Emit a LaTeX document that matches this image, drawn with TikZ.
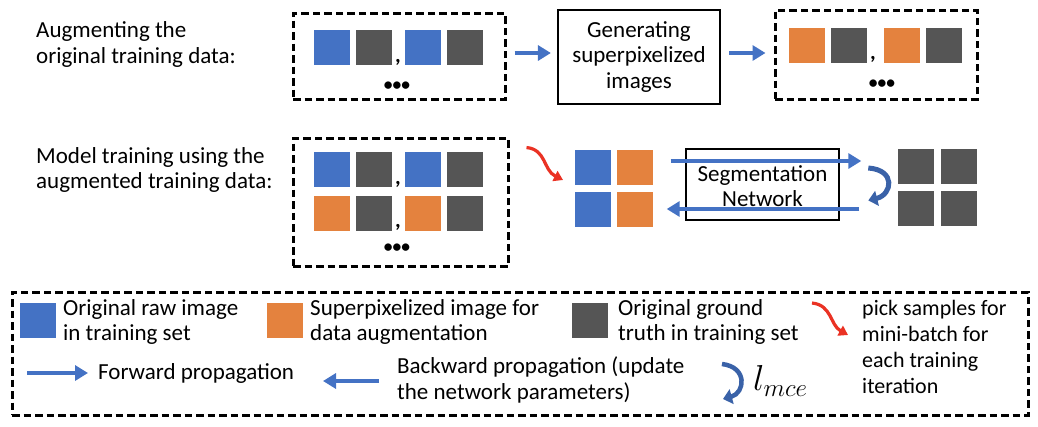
\documentclass[tikz,border=0pt]{standalone}
\usepackage{fontspec}
\setmainfont{Carlito}
\usepackage{graphicx}
\usetikzlibrary{arrows.meta,calc}
\definecolor{cblue}{RGB}{68,114,196}
\definecolor{corange}{RGB}{228,130,62}
\definecolor{cgray}{RGB}{85,85,85}
\definecolor{cred}{RGB}{234,50,36}
\definecolor{ccurl}{RGB}{58,98,168}
\begin{document}
\begin{tikzpicture}[x=1pt,y=-1pt,
  font=\fontsize{23}{25.5}\selectfont,
  sq/.style={minimum width=36pt,minimum height=35pt,inner sep=0pt,outer sep=0pt},
  bsq/.style={sq,fill=cblue},
  osq/.style={sq,fill=corange},
  gsq/.style={sq,fill=cgray},
  dbox/.style={draw=black,line width=3pt,dash pattern=on 7.5pt off 4pt,inner sep=0pt},
  sbox/.style={draw=black,line width=2.2pt,inner sep=0pt,align=center},
  txt/.style={anchor=west,align=left,inner sep=0pt},
  comma/.style={inner sep=0pt,font=\fontsize{22}{22}\selectfont\bfseries},
  dots/.style={inner sep=0pt,font=\fontsize{17.5}{18}\selectfont\bfseries},
  barrow/.style={draw=cblue,line width=4.5pt,-{Triangle[length=13pt,width=15pt]}},
  redarr/.style={draw=cred,line width=3.2pt,-{Triangle[length=9pt,width=11pt]}},
  curl/.style={draw=ccurl,line width=5pt,-{Triangle[length=9pt,width=15pt]}},
]
\useasboundingbox (0,0) rectangle (1038,426);

% ---------- top row ----------
\node[txt] (lab1) at (36,44.5) {Augmenting the\\original training data:};
\node[dbox,minimum width=212pt,minimum height=86pt] (d1) at (399,56) {};
\node[bsq] (t1) at (332,47.5) {};
\node[gsq] (t2) at (374,47.5) {};
\node[comma] (tc1) at (398,62) {,};
\node[bsq] (t3) at (423,47.5) {};
\node[gsq] (t4) at (465,47.5) {};
\node[dots] (tdots1) at (397,86) {•••};

\node[sbox,minimum width=162pt,minimum height=94pt] (gen) at (639,57)
  {Generating\\superpixelized\\images};

\node[dbox,minimum width=202pt,minimum height=89pt] (d3) at (876,54.5) {};
\node[osq] (r1) at (807,45) {};
\node[gsq] (r2) at (849,45) {};
\node[comma] (rc1) at (873,59) {,};
\node[osq] (r3) at (902,45) {};
\node[gsq] (r4) at (944,45) {};
\node[dots] (rdots) at (882,84) {•••};

\draw[barrow] ($(d1.east)+(8,-3)$) -- ($(gen.west |- d1.east)+(-6,-3)$);
\draw[barrow] ($(gen.east)+(8,-4)$) -- ($(d3.west |- gen.east)+(-8,-4)$);

% ---------- middle row ----------
\node[txt] (lab2) at (36,170) {Model training using the\\augmented training data:};
\node[dbox,minimum width=215pt,minimum height=128pt] (d2) at (400.5,202) {};
\node[bsq] (m1) at (332,169.5) {};
\node[gsq] (m2) at (374,169.5) {};
\node[comma] (mc1) at (398,184) {,};
\node[bsq] (m3) at (423,169.5) {};
\node[gsq] (m4) at (465,169.5) {};
\node[osq] (n1) at (332,213) {};
\node[gsq] (n2) at (374,213) {};
\node[comma] (mc2) at (398,227) {,};
\node[osq] (n3) at (423,213) {};
\node[gsq] (n4) at (465,213) {};
\node[dots] (mdots) at (397,248) {•••};

\node[bsq] (g1) at (593,167) {};
\node[osq] (g2) at (635,167) {};
\node[bsq] (g3) at (593,209) {};
\node[osq] (g4) at (635,209) {};

\node[sbox,minimum width=153pt,minimum height=71pt,line width=2.6pt] (seg) at (762.5,184.5) {};
\node[align=center,inner sep=0pt] (segtxt) at (762.5,186) {Segmentation\\Network};

\node[gsq] (k1) at (915.5,166) {};
\node[gsq] (k2) at (959,166) {};
\node[gsq] (k3) at (915.5,208.5) {};
\node[gsq] (k4) at (959,208.5) {};

\draw[barrow,line width=4pt] ($(seg.west)+(-14,-23.5)$) -- ($(seg.east)+(21,-23.5)$);
\draw[barrow,line width=4pt] ($(seg.east)+(19,24.5)$) -- ($(seg.west)+(-18,24.5)$);

\coordinate (cs) at ($(seg.east)+(28,-16.5)$);
\coordinate (ce) at ($(seg.east)+(28,16)$);
\draw[curl] (cs) .. controls +(28,2) and +(24,-6) .. (ce);

\coordinate (rs) at ($(d2.north east)+(17,11)$);
\draw[redarr] (rs) .. controls +(20,2) and +(-20,-10) .. ($(g1.west)+(-12,13)$);

% ---------- legend ----------
\node[dbox,minimum width=1016pt,minimum height=123pt] (leg) at (520,353.5) {};
\node[bsq] (lb) at (38,320.5) {};
\node[txt] (lbt) at (63,322) {Original raw image\\in training set};
\node[osq] (lo) at (285,320.5) {};
\node[txt] (lot) at (310,322) {Superpixelized image for\\data augmentation};
\node[gsq] (lg) at (590,320.5) {};
\node[txt] (lgt) at (618,322) {Original ground\\truth in training set};
\node[txt,font=\fontsize{22}{26}\selectfont] (pick) at (862,347) {pick samples for\\mini-batch for\\each training\\iteration};
\draw[redarr] ($(pick.west)+(-50,-44)$) .. controls +(20,2) and +(-18,-10) .. ($(pick.west)+(-14,-12)$);

\node[txt] (fwd) at (98,373) {Forward propagation};
\draw[barrow] ($(fwd.west)+(-71,0)$) -- ($(fwd.west)+(-10,0)$);
\node[txt] (bwd) at (397,380) {Backward propagation (update\\the network parameters)};
\draw[barrow] ($(bwd.west)+(-18,1)$) -- ($(bwd.west)+(-74,1)$);

\node[anchor=west,inner sep=0pt] (lmce) at (753,381) {\scalebox{1.45}{$l_{mce}$}};
\coordinate (ls) at ($(lmce.west)+(-31,-17)$);
\coordinate (le) at ($(lmce.west)+(-30,18)$);
\draw[curl,line width=4.5pt] (ls) .. controls +(26,3) and +(22,-6) .. (le);
\end{tikzpicture}
\end{document}
